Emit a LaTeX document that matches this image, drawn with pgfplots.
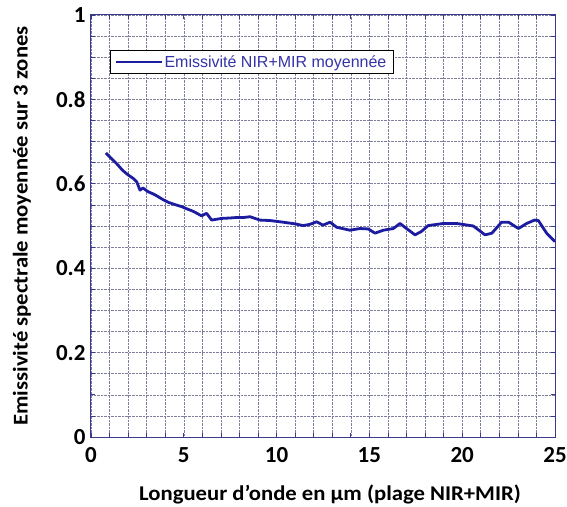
\documentclass[border=0pt]{standalone}
\usepackage{graphicx}
\usepackage{pgfplots}
\pgfplotsset{compat=1.18}
\usepackage{fontspec}
\setmainfont{Carlito}
\newfontfamily\legfont{Liberation Sans}
\definecolor{axcol}{HTML}{3A3A8A}
\definecolor{gridcol}{HTML}{7E7E9E}
\definecolor{curve}{HTML}{1C1CA0}
\definecolor{legtext}{HTML}{3434A8}
\begin{document}
\begin{tikzpicture}
\begin{axis}[
  at={(0pt,0pt)}, anchor=south west,
  scale only axis, width=464pt, height=422pt,
  xmin=0, xmax=25, ymin=0, ymax=1,
  xtick={0,5,10,15,20,25}, ytick={0,0.2,0.4,0.6,0.8,1},
  yticklabels={0,0.2,0.4,0.6,0.8,1},
  minor x tick num=4, minor y tick num=3,
  grid=both,
  major grid style={gridcol, densely dotted, line width=0.6pt},
  minor grid style={gridcol, densely dotted, line width=0.6pt},
  axis line style={axcol, line width=1pt},
  tick style={axcol, line width=0.7pt},
  major tick length=4pt, minor tick length=4pt,
  tick align=inside,
  /pgf/number format/assume math mode=true,
  ticklabel style={font=\fontsize{23}{25}\selectfont\bfseries},
  xticklabel style={yshift=-7pt},
  yticklabel style={xshift=-2pt},
  xlabel={\scalebox{1.08}[1]{Longueur d’onde en µm (plage NIR+MIR)}},
  ylabel={\scalebox{1.08}[1]{Emissivité spectrale moyennée sur 3 zones}},
  label style={font=\fontsize{21}{24}\selectfont\bfseries},
  xlabel style={at={(axis description cs:0.5,-0.137)}, anchor=center, xshift=7pt},
  ylabel style={at={(axis description cs:-0.149,0.5)}, anchor=center, rotate=0},
  legend style={at={(0.041,0.917)}, anchor=north west, draw=black, line width=1pt,
    font=\legfont\fontsize{16}{18}\selectfont\color{legtext}, inner xsep=5pt, inner ysep=3pt,
    fill=white},
  legend cell align=left,
  legend image post style={line width=1.5pt},
  legend image code/.code={\draw[#1] (0cm,0cm) -- (1.6cm,0cm);},
]
\addplot[curve, line width=2.8pt, line join=round] coordinates {
(0.80,0.673) (0.85,0.671) (1.1,0.660) (1.4,0.647) (1.7,0.632) (2.0,0.621) (2.3,0.612) (2.46,0.605) (2.64,0.585)
(2.8,0.590) (3.09,0.581) (3.4,0.575) (3.6,0.570) (3.9,0.562) (4.17,0.556) (4.5,0.551) (4.88,0.546) (5.2,0.540) (5.5,0.535) (5.96,0.524)
(6.23,0.530) (6.5,0.514) (7.04,0.518) (7.5,0.519) (7.8,0.520) (8.2,0.520) (8.57,0.522) (9.1,0.514)
(9.64,0.513) (10.36,0.509) (11.0,0.505) (11.44,0.501) (11.8,0.504) (12.16,0.510)
(12.5,0.502) (12.88,0.509) (13.24,0.497) (13.95,0.490) (14.49,0.494) (14.94,0.493)
(15.3,0.483) (15.75,0.490) (16.29,0.494) (16.65,0.506) (17.0,0.494) (17.46,0.479)
(17.8,0.487) (18.17,0.501) (18.98,0.506) (19.7,0.506) (20.6,0.500) (21.23,0.479)
(21.6,0.483) (22.12,0.509) (22.5,0.509) (23.03,0.494) (23.47,0.506) (23.9,0.514)
(24.1,0.513) (24.55,0.483) (25.0,0.463)
};
\addlegendentry{Emissivité NIR+MIR moyennée}
\end{axis}
\pgfresetboundingbox
\path[use as bounding box] (-91pt,-69pt) rectangle (476pt,437pt);
\end{tikzpicture}
\end{document}
